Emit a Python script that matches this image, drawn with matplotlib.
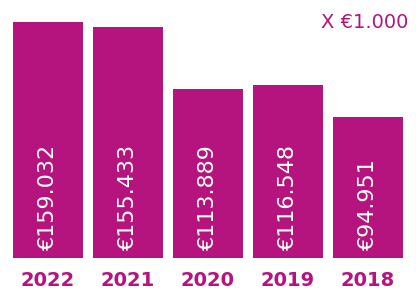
import numpy as np
import matplotlib
matplotlib.use('Agg')
from matplotlib import pyplot as plt

# omzet in duizenden euro's
years = ['2022', '2021', '2020', '2019', '2018']
values = [159.032, 155.433, 113.889, 116.548, 94.951]
labels = ['€159.032', '€155.433', '€113.889', '€116.548', '€94.951']

magenta = '#B5137E'

fig = plt.figure(figsize=(4.16, 2.94), dpi=100)
ax = fig.add_axes([13 / 416, 36 / 294, 390 / 416, 258 / 294])

x = np.arange(len(years))
ax.bar(x, values, width=0.875, color=magenta)

for xi, lab, yr in zip(x, labels, years):
    ax.annotate(lab, (xi, 0), xytext=(0, 8), textcoords='offset pixels',
                rotation=90, ha='center', va='bottom', color='white', fontsize=16)
    ax.annotate(yr, (xi, 0), xytext=(0, -22), textcoords='offset pixels',
                ha='center', va='center', color=magenta, fontsize=14,
                fontweight='bold', annotation_clip=False)

ax.set_xlim(-0.4375, 4.4375)
ax.set_ylim(0, 173.9)
ax.axis('off')

fig.text(408 / 416, 1 - 23 / 294, 'X €1.000', ha='right', va='center',
         color=magenta, fontsize=14)

fig.savefig('out.png', dpi=100)
